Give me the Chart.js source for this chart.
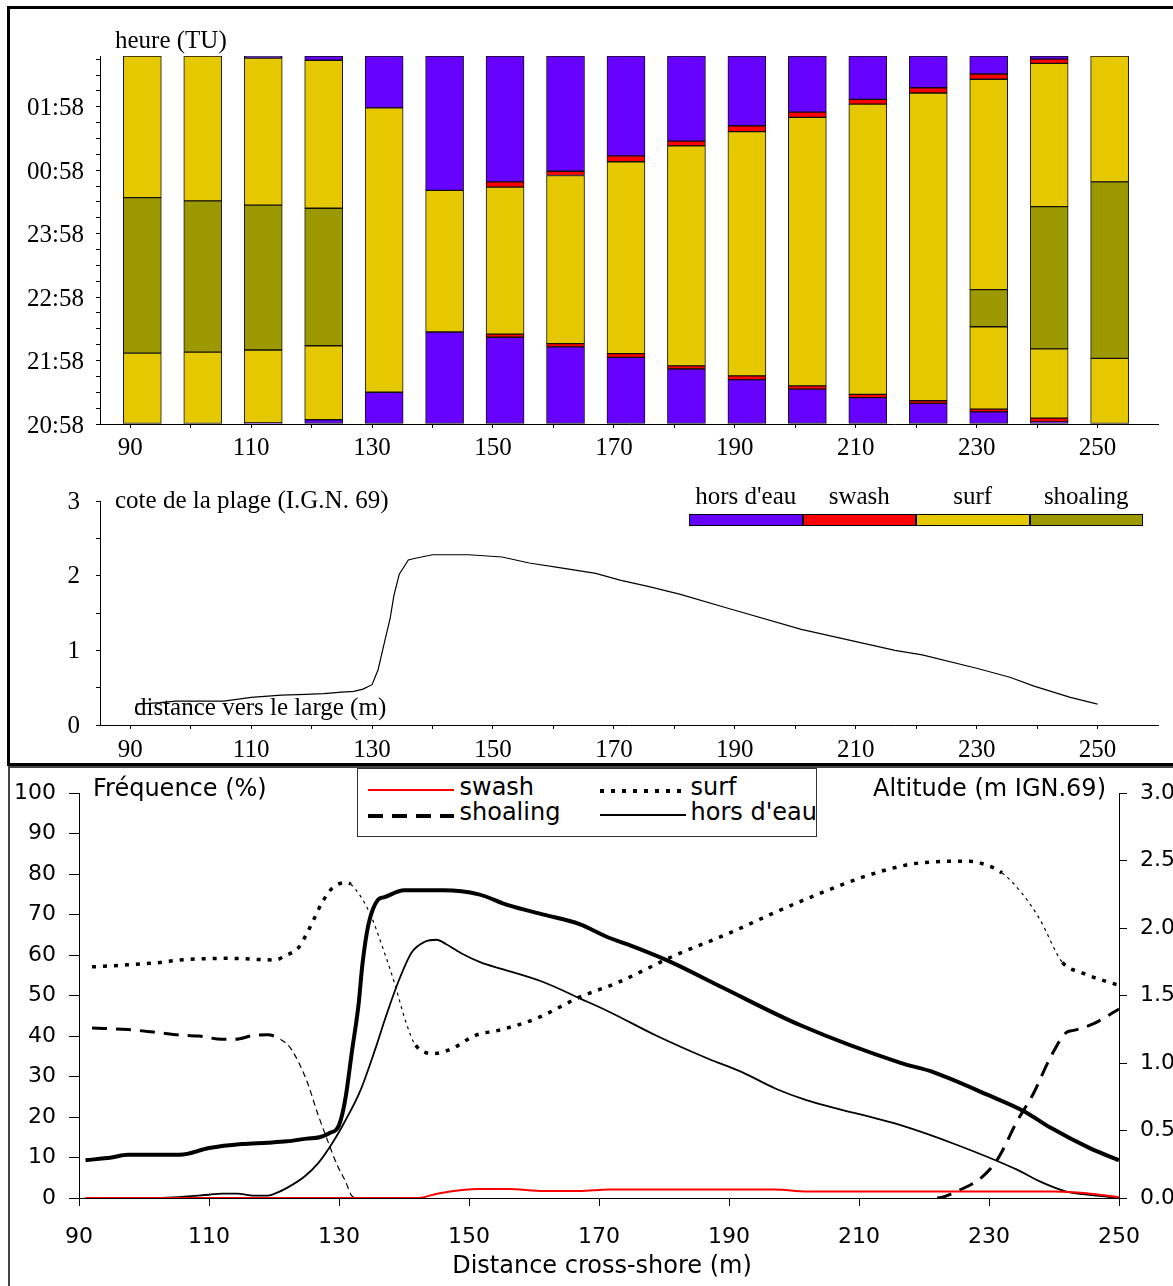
<!DOCTYPE html>
<html lang="fr">
<head>
<meta charset="utf-8">
<title>Zones hydrodynamiques et profil de plage</title>
<script src="https://cdn.jsdelivr.net/npm/chart.js@4.4.1/dist/chart.umd.min.js"></script>
<style>
  html, body { margin: 0; padding: 0; background: #fff; }
  body { position: relative; width: 1173px; height: 1286px; overflow: hidden; }
  .cadre { position: absolute; box-sizing: border-box; }
  #cadre1 { left: 7px; top: 6px; width: 1220px; height: 760px; border: 3px solid #000; }
  #cadre2 { left: 8px; top: 766px; width: 1220px; height: 560px; border: 2px solid #444; }
  canvas { position: absolute; left: 0; }
  .txt { position: absolute; white-space: nowrap; line-height: 1; color: #000; }
  .serif { font-family: 'Liberation Serif', 'Times New Roman', serif; font-size: 25px; }
  .sans { font-family: 'DejaVu Sans', sans-serif; font-size: 24px; }
  #legendeZones { position: absolute; left: 689px; top: 482px; display: flex; }
  #legendeZones .zone { width: 113.5px; text-align: center; }
  #legendeZones .nom { height: 25px; }
  #legendeZones .case { margin-top: 7px; height: 12px; box-sizing: border-box; border: 1px solid #000; }
  #legendeLignes { position: absolute; left: 357px; top: 768px; width: 460px; height: 69px; box-sizing: border-box; border: 1.5px solid #333; background: #fff; }
  #legendeLignes .trait { position: absolute; }
</style>
</head>
<body>
<div class="cadre" id="cadre1"></div>
<div class="cadre" id="cadre2"></div>

<canvas id="barres" width="1173" height="470" style="top:0"></canvas>
<canvas id="profil" width="1173" height="290" style="top:470px"></canvas>
<canvas id="frequences" width="1173" height="519" style="top:767px"></canvas>

<div class="txt serif" style="left:115px; top:27px">heure (TU)</div>
<div class="txt serif" style="left:115px; top:487px">cote de la plage (I.G.N. 69)</div>
<div class="txt serif" style="left:134px; top:694px">distance vers le large (m)</div>
<div id="legendeZones" class="serif"></div>

<div id="legendeLignes" class="sans"></div>
<div class="txt sans" style="left:93px; top:776px">Fréquence (%)</div>
<div class="txt sans" style="right:67px; top:776px">Altitude (m IGN.69)</div>
<div class="txt sans" style="left:602px; top:1253px; transform:translateX(-50%)">Distance cross-shore (m)</div>

<script>
// ---- données : barres (haut) ----
const distances = [90, 100, 110, 120, 130, 140, 150, 160, 170, 180, 190, 200, 210, 220, 230, 240, 250];
const heures = ['20:58', '21:58', '22:58', '23:58', '00:58', '01:58'];
const zones = ["hors d'eau", 'swash', 'surf', 'shoaling'];
const couleursZones = ['#6600ff', '#ff0000', '#e6c800', '#9c9900'];

// durée de chaque tranche en minutes, du bas vers le haut de la barre
const horsEauBas  = [0, 0, 1, 4, 30, 87, 82, 73, 63, 52, 42, 33, 25, 19.5, 11.5, 2, 0];
const swashBas    = [0, 0, 0, 0, 0, 0, 3, 3, 3.5, 3, 3.5, 3, 3, 2.5, 2.5, 3.5, 0];
const surfBas     = [67, 68, 69, 70, 269, 134, 139, 159, 181.5, 208, 231, 254, 274.5, 291, 78, 65.5, 62];
const shoalingMil = [147, 143, 137, 130, 0, 0, 0, 0, 0, 0, 0, 0, 0, 0, 35, 134.5, 167];
const surfHaut    = [134, 137, 139, 140, 0, 0, 0, 0, 0, 0, 0, 0, 0, 0, 199, 135.5, 119];
const swashHaut   = [0, 0, 0, 0, 0, 0, 5, 4, 5.5, 4.5, 5.5, 5, 4.5, 5, 5, 4, 0];
const horsEauHaut = [0, 0, 2, 4, 49, 127, 119, 109, 94.5, 80.5, 66, 53, 41, 30, 17, 3, 0];

// ---- données : profil de plage (m IGN 69) ----
const profilX = [91, 95, 97.5, 105.5, 110, 115, 119, 122, 125, 127, 128.5, 130, 131, 132, 133, 133.6, 134.5, 136, 137, 140,
                 146, 151.5, 156, 161.5, 167, 171, 176, 181, 189, 201, 216.5, 221, 230, 235.5, 239.5, 245.5, 250];
const profilZ = [0.28, 0.30, 0.32, 0.32, 0.37, 0.40, 0.41, 0.42, 0.44, 0.45, 0.48, 0.54, 0.74, 1.09, 1.43, 1.73, 2.02, 2.21, 2.23, 2.28,
                 2.28, 2.25, 2.17, 2.10, 2.03, 1.94, 1.85, 1.75, 1.56, 1.28, 1.00, 0.94, 0.76, 0.64, 0.52, 0.37, 0.28];

// ---- données : fréquences (%) ----
const swashX = [91, 142, 145.5, 151.5, 156, 161.5, 167, 171.5, 197, 202, 240, 245, 250];
const swashF = [0, 0, 1.2, 2.2, 2.2, 1.7, 1.7, 2.1, 2.1, 1.6, 1.6, 1.2, 0.2];

const surfX = [92, 97.5, 102.5, 105.5, 113, 120.3, 121.5, 123.8, 125, 126, 127.4, 129, 131, 131.8, 134.7, 136.8, 138.5, 140.3, 141.8, 144.7,
               147.4, 151, 154.5, 160.3, 167, 173, 181.5, 190.3, 197, 203, 211, 216.5, 219.5, 227, 228.6, 232, 235, 237.8, 241.3, 244.2, 250];
const surfF = [57.1, 57.6, 58.2, 58.8, 59.2, 58.8, 59.7, 61.9, 65.2, 68.4, 73, 76.6, 77.9, 77.5, 70.5, 61.5, 53.3, 43.4, 37.7, 35.7,
               36.9, 40.2, 41.4, 44.3, 49.6, 53.3, 59.8, 65.6, 70.5, 74.6, 79.5, 82, 82.8, 83.2, 82.8, 80.3, 75.4, 68.9, 58.2, 55.7, 52.5];

const shoalX = [92, 97.5, 101.5, 106, 108.5, 112, 114, 117, 119, 121, 122.6, 125, 126.8, 128.5, 129.7, 131, 132, 133, 222, 225,
                229, 231.4, 234.3, 236.7, 239.6, 242, 243, 246, 250];
const shoalF = [42, 41.6, 41, 40.2, 40, 39.2, 39.2, 40.2, 40.3, 39.2, 36.9, 29.1, 20.5, 13.1, 8.2, 4.1, 0.5, 0, 0, 1.6,
                5.3, 9.8, 18.9, 25.4, 35.2, 41, 41.4, 43, 46.7];

const horsX = [92, 101.5, 110, 112, 114.4, 116.8, 119.1, 120.3, 122, 124.7, 126.8, 129.1, 130.9, 133.2, 135.6, 137.1, 139.1, 141.2, 143.2, 145,
               146.5, 149.1, 151.8, 155, 161.5, 167.2, 171.7, 178.7, 186.8, 192, 197.2, 201.9, 216.4, 225.1, 234.3, 237.8, 241.9, 245.9, 250];
const horsF = [0, 0, 0.8, 1.1, 1.1, 0.6, 0.6, 1.2, 2.5, 5.3, 8.6, 13.9, 18.9, 26.2, 36.9, 44.3, 53.3, 60.7, 63.3, 63.8,
               62.7, 60.2, 58.2, 56.6, 53.3, 49.2, 45.9, 40.2, 34.4, 31.1, 27, 24.2, 18, 13.1, 7, 4.1, 1.6, 0.7, 0];

// portions tracées en trait fin dans l'original
const finsSurf = [[131.8, 141.8], [232, 241.3]];
const finsShoal = [[120.9, 132.5]];

// ---- outils ----
Chart.defaults.animation = false;
const policeSerif = { family: "'Liberation Serif', serif", size: 25 };
const policeSans = { family: "'DejaVu Sans', sans-serif", size: 22 };

function graduations(min, max, pas) {
  const t = [];
  for (let v = min; v <= max + 1e-9; v += pas) t.push({ value: Math.round(v * 1000) / 1000 });
  return t;
}
const points = (xs, ys) => xs.map((x, i) => ({ x: x, y: ys[i] }));
const estFin = (x, plages) => plages.some(p => x >= p[0] - 0.01 && x < p[1]);
const surZero = c => c.p0.parsed.y === 0 && c.p1.parsed.y === 0;

function axeDistance(hauteur, pad) {
  return {
    type: 'linear', min: 85, max: 260, offset: false,
    afterFit: s => { s.height = hauteur; },
    afterBuildTicks: s => { s.ticks = graduations(90, 250, 10); },
    ticks: { autoSkip: false, maxRotation: 0, padding: pad, color: '#000', font: policeSerif,
             callback: v => (v - 90) % 20 === 0 ? String(v) : '' },
    grid: { drawOnChartArea: false, offset: false, tickLength: 4, color: '#000' },
    border: { color: '#000', width: 1 }
  };
}

// ---- graphique 1 : zones par heure ----
const tranches = [horsEauBas, swashBas, surfBas, shoalingMil, surfHaut, swashHaut, horsEauHaut];
const zoneTranche = [0, 1, 2, 3, 2, 1, 0];
const decalage = 2; // les barres sont un peu à droite de leur graduation

const axeX1 = axeDistance(46, 5);
axeX1.stacked = true;

new Chart(document.getElementById('barres'), {
  type: 'bar',
  data: {
    datasets: tranches.map((t, i) => ({
      label: zones[zoneTranche[i]],
      data: distances.map((d, j) => ({ x: d + decalage, y: t[j] || null })),
      backgroundColor: couleursZones[zoneTranche[i]],
      borderColor: '#111',
      borderWidth: 1,
      borderSkipped: false,
      barThickness: 38
    }))
  },
  options: {
    responsive: false,
    layout: { padding: { top: 56, right: 15, left: 0, bottom: 0 } },
    plugins: { legend: { display: false }, tooltip: { enabled: false } },
    scales: {
      x: axeX1,
      y: {
        stacked: true, min: 0, max: 348,
        afterFit: s => { s.width = 100; },
        afterBuildTicks: s => { s.ticks = graduations(0, 345, 15); },
        ticks: { autoSkip: false, padding: 12, labelOffset: 2, color: '#000', font: policeSerif,
                 callback: v => v % 60 === 0 ? heures[v / 60] : '' },
        grid: { drawOnChartArea: false, tickLength: 4, color: '#000' },
        border: { color: '#000', width: 1 }
      }
    }
  }
});

// légende des zones
const legZones = document.getElementById('legendeZones');
zones.forEach((z, i) => {
  const cell = document.createElement('div');
  cell.className = 'zone';
  cell.innerHTML = `<div class="nom">${z}</div><div class="case" style="background:${couleursZones[i]}"></div>`;
  legZones.appendChild(cell);
});

// ---- graphique 2 : profil ----
new Chart(document.getElementById('profil'), {
  type: 'line',
  data: {
    datasets: [{
      data: points(profilX, profilZ),
      borderColor: '#000', borderWidth: 1.2, pointRadius: 0, tension: 0
    }]
  },
  options: {
    responsive: false,
    layout: { padding: { top: 30, right: 15, left: 0, bottom: 0 } },
    plugins: { legend: { display: false }, tooltip: { enabled: false } },
    scales: {
      x: axeDistance(35, 6),
      y: {
        min: 0, max: 3,
        afterFit: s => { s.width = 100; },
        afterBuildTicks: s => { s.ticks = graduations(0, 3, 0.5); },
        ticks: { autoSkip: false, padding: 16, labelOffset: 1, color: '#000', font: policeSerif,
                 callback: v => Number.isInteger(v) ? String(v) : '' },
        grid: { drawOnChartArea: false, tickLength: 4, color: '#000' },
        border: { color: '#000', width: 1 }
      }
    }
  }
});

// ---- graphique 3 : fréquences et altitude ----
const series3 = [
  { nom: 'swash', data: points(swashX, swashF), borderColor: '#ff0000', borderWidth: 2, borderDash: [],
    motif: 'background:#ff0000;height:2px', col: 0, lig: 0 },
  { nom: 'surf', data: points(surfX, surfF), borderColor: '#000', borderWidth: 3.5, borderDash: [4, 7],
    segment: {
      borderWidth: c => estFin(c.p0.parsed.x, finsSurf) ? 1.2 : 3.5,
      borderDash: c => estFin(c.p0.parsed.x, finsSurf) ? [3, 4] : [4, 7]
    },
    motif: 'background:repeating-linear-gradient(90deg,#000 0 4px,transparent 4px 11px);height:4px', col: 1, lig: 0 },
  { nom: 'shoaling', data: points(shoalX, shoalF), borderColor: '#000', borderWidth: 3, borderDash: [15, 9],
    segment: {
      borderColor: c => surZero(c) ? 'rgba(0,0,0,0)' : '#000',
      borderWidth: c => estFin(c.p0.parsed.x, finsShoal) ? 1.2 : 3,
      borderDash: c => estFin(c.p0.parsed.x, finsShoal) ? [6, 4] : [15, 9]
    },
    motif: 'background:repeating-linear-gradient(90deg,#000 0 15px,transparent 15px 24px);height:3.5px', col: 0, lig: 1 },
  { nom: "hors d'eau", data: points(horsX, horsF), borderColor: '#000', borderWidth: 1.8, borderDash: [],
    motif: 'background:#000;height:2px', col: 1, lig: 1 }
];

const datasets3 = series3.map(s => ({
  label: s.nom, data: s.data, borderColor: s.borderColor, borderWidth: s.borderWidth,
  borderDash: s.borderDash, segment: s.segment, pointRadius: 0, cubicInterpolationMode: 'monotone',
  yAxisID: 'y'
}));
datasets3.push({
  label: 'altitude', data: points(profilX, profilZ), borderColor: '#000', borderWidth: 4,
  pointRadius: 0, cubicInterpolationMode: 'monotone', yAxisID: 'alt'
});

new Chart(document.getElementById('frequences'), {
  type: 'line',
  data: { datasets: datasets3 },
  options: {
    responsive: false,
    layout: { padding: { top: 25, right: 0, left: 0, bottom: 0 } },
    plugins: { legend: { display: false }, tooltip: { enabled: false } },
    scales: {
      x: {
        type: 'linear', min: 90, max: 250,
        afterFit: s => { s.height = 88; },
        afterBuildTicks: s => { s.ticks = graduations(90, 250, 20); },
        ticks: { autoSkip: false, maxRotation: 0, padding: 18, color: '#000', font: policeSans },
        grid: { drawOnChartArea: false, tickLength: 8, color: '#000' },
        border: { color: '#000', width: 1 }
      },
      y: {
        position: 'left', min: 0, max: 100,
        afterFit: s => { s.width = 79; },
        afterBuildTicks: s => { s.ticks = graduations(0, 100, 10); },
        ticks: { autoSkip: false, padding: 13, color: '#000', font: policeSans },
        grid: { drawOnChartArea: false, tickLength: 10, color: '#000' },
        border: { color: '#000', width: 1 }
      },
      alt: {
        position: 'right', min: 0, max: 3,
        afterFit: s => { s.width = 54; },
        afterBuildTicks: s => { s.ticks = graduations(0, 3, 0.5); },
        ticks: { autoSkip: false, padding: 13, color: '#000', font: policeSans,
                 callback: v => v.toFixed(1) },
        grid: { drawOnChartArea: false, tickLength: 8, color: '#000' },
        border: { color: '#000', width: 1 }
      }
    }
  }
});

// légende des courbes
const legLignes = document.getElementById('legendeLignes');
const colTrait = [9.5, 241.5], colTexte = [101.5, 332.5];
const ligTrait = [20.5, 46], ligTexte = [6, 30.5];
series3.forEach(s => {
  const t = document.createElement('div');
  t.className = 'trait';
  t.style.cssText = `left:${colTrait[s.col]}px;top:${ligTrait[s.lig] - 1}px;width:86px;${s.motif}`;
  legLignes.appendChild(t);
  const n = document.createElement('div');
  n.className = 'txt';
  n.style.cssText = `left:${colTexte[s.col]}px;top:${ligTexte[s.lig]}px`;
  n.textContent = s.nom;
  legLignes.appendChild(n);
});
</script>
</body>
</html>
